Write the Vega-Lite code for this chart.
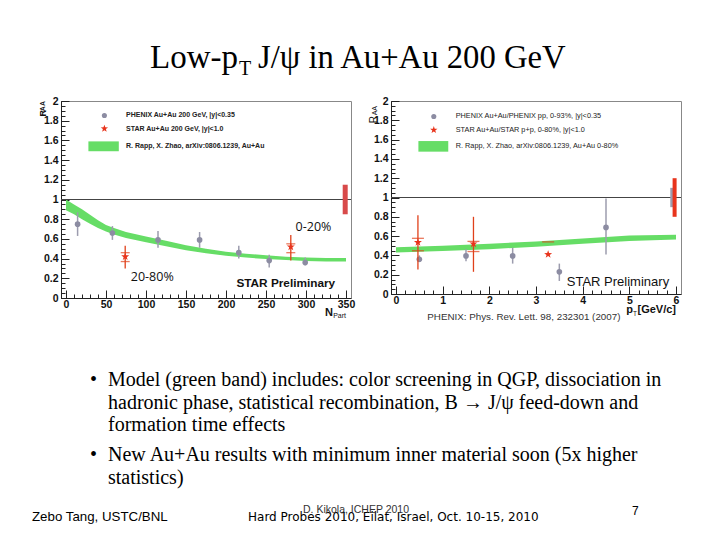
{
  "$schema": "https://vega.github.io/schema/vega-lite/v6.json",
  "background": "white",
  "padding": {"left": 32, "top": 0, "right": 0, "bottom": 0},
  "spacing": 0,
  "resolve": {"scale": {"x": "independent", "y": "independent"}},
  "config": {
    "view": {"stroke": "#888"},
    "axis": {
      "labelFont": "Liberation Sans", "labelFontWeight": "bold", "labelFontSize": 10.5,
      "labelColor": "#111", "domainColor": "#222", "tickColor": "#222", "grid": false,
      "labelOverlap": false, "labelFlush": false, "labelBound": false
    }
  },
  "datasets": {
    "one": [{}],
    "phenixN": [
      {"npart": 14.5, "raa": 0.75, "lo": 0.63, "hi": 0.87},
      {"npart": 58, "raa": 0.66, "lo": 0.59, "hi": 0.73},
      {"npart": 115, "raa": 0.59, "lo": 0.51, "hi": 0.68},
      {"npart": 167, "raa": 0.59, "lo": 0.51, "hi": 0.67},
      {"npart": 216, "raa": 0.46, "lo": 0.40, "hi": 0.53},
      {"npart": 254, "raa": 0.38, "lo": 0.31, "hi": 0.44},
      {"npart": 299, "raa": 0.36, "lo": 0.33, "hi": 0.41}
    ],
    "starN": [
      {"npart": 74, "raa": 0.42, "lo": 0.30, "hi": 0.53, "syslo": 0.37, "syshi": 0.46},
      {"npart": 281, "raa": 0.52, "lo": 0.38, "hi": 0.64, "syslo": 0.46, "syshi": 0.55}
    ],
    "bandN": [
      {"npart": 0, "lo": 0.89, "hi": 1.0},
      {"npart": 10, "lo": 0.85, "hi": 0.95},
      {"npart": 20, "lo": 0.80, "hi": 0.90},
      {"npart": 30, "lo": 0.755, "hi": 0.845},
      {"npart": 40, "lo": 0.71, "hi": 0.79},
      {"npart": 50, "lo": 0.675, "hi": 0.74},
      {"npart": 60, "lo": 0.645, "hi": 0.71},
      {"npart": 75, "lo": 0.61, "hi": 0.67},
      {"npart": 100, "lo": 0.565, "hi": 0.625},
      {"npart": 125, "lo": 0.525, "hi": 0.58},
      {"npart": 150, "lo": 0.485, "hi": 0.535},
      {"npart": 175, "lo": 0.455, "hi": 0.50},
      {"npart": 200, "lo": 0.43, "hi": 0.47},
      {"npart": 225, "lo": 0.41, "hi": 0.45},
      {"npart": 250, "lo": 0.395, "hi": 0.435},
      {"npart": 275, "lo": 0.385, "hi": 0.42},
      {"npart": 300, "lo": 0.375, "hi": 0.41},
      {"npart": 325, "lo": 0.37, "hi": 0.405},
      {"npart": 350, "lo": 0.37, "hi": 0.405}
    ],
    "globalN": [{"npart": 349, "lo": 0.85, "hi": 1.15}],
    "phenixPt": [
      {"pt": 0.5, "raa": 0.36, "lo": 0.33, "hi": 0.40},
      {"pt": 1.5, "raa": 0.395, "lo": 0.34, "hi": 0.465},
      {"pt": 2.5, "raa": 0.395, "lo": 0.315, "hi": 0.48},
      {"pt": 3.5, "raa": 0.23, "lo": 0.135, "hi": 0.315},
      {"pt": 4.5, "raa": 0.69, "lo": 0.41, "hi": 0.99}
    ],
    "starPt": [
      {"pt": 0.47, "raa": 0.535, "lo": 0.255, "hi": 0.815, "syslo": 0.448, "syshi": 0.577},
      {"pt": 1.66, "raa": 0.52, "lo": 0.23, "hi": 0.80, "syslo": 0.44, "syshi": 0.545},
      {"pt": 3.26, "raa": 0.41, "lo": null, "hi": null, "syslo": null, "syshi": 0.54}
    ],
    "bandPt": [
      {"pt": 0, "lo": 0.43, "hi": 0.485},
      {"pt": 1, "lo": 0.445, "hi": 0.50},
      {"pt": 2, "lo": 0.465, "hi": 0.52},
      {"pt": 3, "lo": 0.49, "hi": 0.545},
      {"pt": 4, "lo": 0.52, "hi": 0.575},
      {"pt": 5, "lo": 0.55, "hi": 0.605},
      {"pt": 6, "lo": 0.565, "hi": 0.615}
    ],
    "globalPt": [
      {"pt": 5.92, "lo": 0.9, "hi": 1.1, "exp": "PHENIX"},
      {"pt": 5.97, "lo": 0.8, "hi": 1.2, "exp": "STAR"}
    ]
  },
  "vconcat": [
    {
      "width": 620, "height": 95, "view": {"stroke": null},
      "layer": [
        {
          "data": {"values": [{"t": "Low-p"}]},
          "mark": {"type": "text", "font": "Liberation Serif", "fontSize": 33, "align": "right", "baseline": "alphabetic", "color": "#000"},
          "encoding": {
            "text": {"field": "t"},
            "x": {"datum": 177, "type": "quantitative", "scale": {"domain": [0, 620], "nice": false, "zero": false}, "axis": null},
            "y": {"datum": 68, "type": "quantitative", "scale": {"domain": [0, 95], "nice": false, "zero": false, "reverse": true}, "axis": null}
          }
        },
        {
          "data": {"values": [{"t": "T"}]},
          "mark": {"type": "text", "font": "Liberation Serif", "fontSize": 20, "align": "left", "baseline": "alphabetic", "color": "#000"},
          "encoding": {"text": {"field": "t"}, "x": {"datum": 178, "type": "quantitative"}, "y": {"datum": 75, "type": "quantitative"}}
        },
        {
          "data": {"values": [{"t": "J/ψ in Au+Au 200 GeV"}]},
          "mark": {"type": "text", "font": "Liberation Serif", "fontSize": 32.7, "align": "left", "baseline": "alphabetic", "color": "#000"},
          "encoding": {"text": {"field": "t"}, "x": {"datum": 197, "type": "quantitative"}, "y": {"datum": 68, "type": "quantitative"}}
        }
      ]
    },
    {
      "hconcat": [
        {
          "width": 290, "height": 197,
          "resolve": {"axis": {"x": "independent", "y": "independent"}},
          "layer": [
            {
              "data": {"name": "bandN"},
              "mark": {"type": "area", "color": "#66dd66", "opacity": 1},
              "encoding": {
                "x": {"field": "npart", "type": "quantitative", "title": null,
                  "scale": {"domain": [0, 350], "nice": false, "zero": false},
                  "axis": {"title": null, "orient": "bottom", "values": [0,50,100,150,200,250,300,350], "format": "d", "tickSize": -8, "labelPadding": 9}},
                "y": {"field": "lo", "type": "quantitative", "title": null,
                  "scale": {"domain": [0, 2], "nice": false, "zero": false},
                  "axis": {"title": null, "orient": "left", "values": [0,0.2,0.4,0.6,0.8,1,1.2,1.4,1.6,1.8,2], "format": "~g", "tickSize": -8, "labelPadding": 11}},
                "y2": {"field": "hi"}
              }
            },
            {
              "data": {"name": "one"},
              "mark": {"type": "point", "opacity": 0},
              "encoding": {
                "x": {"datum": 0, "type": "quantitative", "axis": {"title": null, "orient": "bottom", "labels": false, "domain": false, "tickSize": -4,
                  "values": [0,10,20,30,40,50,60,70,80,90,100,110,120,130,140,150,160,170,180,190,200,210,220,230,240,250,260,270,280,290,300,310,320,330,340,350]}},
                "y": {"datum": 0, "type": "quantitative", "axis": {"title": null, "orient": "left", "labels": false, "domain": false, "tickSize": -4,
                  "values": [0,0.05,0.1,0.15,0.2,0.25,0.3,0.35,0.4,0.45,0.5,0.55,0.6,0.65,0.7,0.75,0.8,0.85,0.9,0.95,1,1.05,1.1,1.15,1.2,1.25,1.3,1.35,1.4,1.45,1.5,1.55,1.6,1.65,1.7,1.75,1.8,1.85,1.9,1.95,2]}}
              }
            },
            {
              "data": {"name": "one"},
              "mark": {"type": "rule", "color": "#444", "strokeWidth": 1},
              "encoding": {"y": {"datum": 1, "type": "quantitative", "axis": null}}
            },
            {
              "data": {"name": "phenixN"},
              "mark": {"type": "rule", "color": "#9c9cae", "strokeWidth": 1.5},
              "encoding": {
                "x": {"field": "npart", "type": "quantitative", "axis": null},
                "y": {"field": "lo", "type": "quantitative", "axis": null},
                "y2": {"field": "hi"}
              }
            },
            {
              "data": {"name": "phenixN"},
              "mark": {"type": "point", "shape": "circle", "filled": true, "size": 32, "color": "#8c8ca2", "opacity": 1},
              "encoding": {
                "x": {"field": "npart", "type": "quantitative", "axis": null},
                "y": {"field": "raa", "type": "quantitative", "axis": null}
              }
            },
            {
              "data": {"name": "starN"},
              "mark": {"type": "rule", "color": "#e0401a", "strokeWidth": 1.3},
              "encoding": {
                "x": {"field": "npart", "type": "quantitative", "axis": null},
                "y": {"field": "lo", "type": "quantitative", "axis": null},
                "y2": {"field": "hi"}
              }
            },
            {
              "data": {"name": "starN"},
              "mark": {"type": "tick", "orient": "horizontal", "size": 9, "thickness": 1.3, "color": "#e0401a"},
              "encoding": {
                "x": {"field": "npart", "type": "quantitative", "axis": null},
                "y": {"field": "syslo", "type": "quantitative", "axis": null}
              }
            },
            {
              "data": {"name": "starN"},
              "mark": {"type": "tick", "orient": "horizontal", "size": 9, "thickness": 1.3, "color": "#e0401a"},
              "encoding": {
                "x": {"field": "npart", "type": "quantitative", "axis": null},
                "y": {"field": "syshi", "type": "quantitative", "axis": null}
              }
            },
            {
              "data": {"name": "starN"},
              "mark": {"type": "point", "shape": "M0,-1L0.235,-0.324L0.951,-0.309L0.38,0.124L0.588,0.809L0,0.4L-0.588,0.809L-0.38,0.124L-0.951,-0.309L-0.235,-0.324Z", "filled": true, "size": 70, "color": "#e8341c", "opacity": 1},
              "encoding": {
                "x": {"field": "npart", "type": "quantitative", "axis": null},
                "y": {"field": "raa", "type": "quantitative", "axis": null}
              }
            },
            {
              "data": {"name": "globalN"},
              "mark": {"type": "bar", "width": 5, "color": "#d84a4a"},
              "encoding": {
                "x": {"field": "npart", "type": "quantitative", "axis": null},
                "y": {"field": "lo", "type": "quantitative", "axis": null},
                "y2": {"field": "hi"}
              }
            },
            {
              "data": {"name": "one"},
              "mark": {"type": "point", "shape": "circle", "filled": true, "size": 26, "color": "#8c8ca2", "opacity": 1},
              "encoding": {"x": {"datum": 48, "type": "quantitative", "axis": null}, "y": {"datum": 1.853, "type": "quantitative", "axis": null}}
            },
            {
              "data": {"name": "one"},
              "mark": {"type": "point", "shape": "M0,-1L0.235,-0.324L0.951,-0.309L0.38,0.124L0.588,0.809L0,0.4L-0.588,0.809L-0.38,0.124L-0.951,-0.309L-0.235,-0.324Z", "filled": true, "size": 60, "color": "#e8341c", "opacity": 1},
              "encoding": {"x": {"datum": 48, "type": "quantitative", "axis": null}, "y": {"datum": 1.72, "type": "quantitative", "axis": null}}
            },
            {
              "data": {"name": "one"},
              "mark": {"type": "rect", "color": "#66dd66"},
              "encoding": {"x": {"datum": 28, "type": "quantitative", "axis": null}, "x2": {"datum": 66}, "y": {"datum": 1.49, "type": "quantitative", "axis": null}, "y2": {"datum": 1.59}}
            },
            {
              "data": {"values": [{"label": "PHENIX Au+Au 200 GeV, |y|<0.35"}]},
              "mark": {"type": "text", "font": "Liberation Sans", "fontWeight": "bold", "fontSize": 7, "align": "left", "baseline": "middle", "color": "#222"},
              "encoding": {"text": {"field": "label"}, "x": {"datum": 75, "type": "quantitative", "axis": null}, "y": {"datum": 1.853, "type": "quantitative", "axis": null}}
            },
            {
              "data": {"values": [{"label": "STAR  Au+Au 200 GeV, |y|<1.0"}]},
              "mark": {"type": "text", "font": "Liberation Sans", "fontWeight": "bold", "fontSize": 7, "align": "left", "baseline": "middle", "color": "#222"},
              "encoding": {"text": {"field": "label"}, "x": {"datum": 75, "type": "quantitative", "axis": null}, "y": {"datum": 1.72, "type": "quantitative", "axis": null}}
            },
            {
              "data": {"values": [{"label": "R. Rapp, X. Zhao, arXiv:0806.1239, Au+Au"}]},
              "mark": {"type": "text", "font": "Liberation Sans", "fontWeight": "bold", "fontSize": 7, "align": "left", "baseline": "middle", "color": "#222"},
              "encoding": {"text": {"field": "label"}, "x": {"datum": 75, "type": "quantitative", "axis": null}, "y": {"datum": 1.545, "type": "quantitative", "axis": null}}
            },
            {
              "data": {"values": [{"label": "0-20%"}]},
              "mark": {"type": "text", "font": "Open Sans", "fontSize": 12.5, "align": "left", "baseline": "middle", "color": "#111"},
              "encoding": {"text": {"field": "label"}, "x": {"datum": 287, "type": "quantitative", "axis": null}, "y": {"datum": 0.72, "type": "quantitative", "axis": null}}
            },
            {
              "data": {"values": [{"label": "20-80%"}]},
              "mark": {"type": "text", "font": "Open Sans", "fontSize": 12.5, "align": "left", "baseline": "middle", "color": "#111"},
              "encoding": {"text": {"field": "label"}, "x": {"datum": 81, "type": "quantitative", "axis": null}, "y": {"datum": 0.215, "type": "quantitative", "axis": null}}
            },
            {
              "data": {"values": [{"label": "STAR Preliminary"}]},
              "mark": {"type": "text", "font": "Liberation Sans", "fontWeight": "bold", "fontSize": 11.8, "align": "left", "baseline": "middle", "color": "#111"},
              "encoding": {"text": {"field": "label"}, "x": {"datum": 213, "type": "quantitative", "axis": null}, "y": {"datum": 0.15, "type": "quantitative", "axis": null}}
            },
            {
              "data": {"values": [{"label": "N"}]},
              "mark": {"type": "text", "font": "Liberation Sans", "fontWeight": "bold", "fontSize": 11, "align": "right", "baseline": "alphabetic", "dx": -13, "dy": 18, "color": "#111"},
              "encoding": {"text": {"field": "label"}, "x": {"datum": 350, "type": "quantitative", "axis": null}, "y": {"datum": 0, "type": "quantitative", "axis": null}}
            },
            {
              "data": {"values": [{"label": "Part"}]},
              "mark": {"type": "text", "font": "Liberation Sans", "fontSize": 7, "align": "right", "baseline": "alphabetic", "dx": 0, "dy": 19.5, "color": "#111"},
              "encoding": {"text": {"field": "label"}, "x": {"datum": 350, "type": "quantitative", "axis": null}, "y": {"datum": 0, "type": "quantitative", "axis": null}}
            },
            {
              "data": {"values": [{"label": "AA"}]},
              "mark": {"type": "text", "font": "Liberation Sans", "fontWeight": "bold", "fontSize": 7, "align": "right", "baseline": "alphabetic", "angle": 270, "dx": 0, "dy": -21, "color": "#111"},
              "encoding": {"text": {"field": "label"}, "x": {"datum": 0, "type": "quantitative", "axis": null}, "y": {"datum": 2, "type": "quantitative", "axis": null}}
            },
            {
              "data": {"values": [{"label": "R"}]},
              "mark": {"type": "text", "font": "Liberation Sans", "fontWeight": "bold", "fontSize": 9, "align": "right", "baseline": "alphabetic", "angle": 270, "dx": -9, "dy": -20.5, "color": "#111"},
              "encoding": {"text": {"field": "label"}, "x": {"datum": 0, "type": "quantitative", "axis": null}, "y": {"datum": 2, "type": "quantitative", "axis": null}}
            }
          ]
        },
        {
          "width": 290, "height": 193,
          "resolve": {"axis": {"x": "independent", "y": "independent"}},
          "layer": [
            {
              "data": {"name": "bandPt"},
              "mark": {"type": "area", "color": "#66dd66", "opacity": 1},
              "encoding": {
                "x": {"field": "pt", "type": "quantitative", "title": null,
                  "scale": {"domain": [0, 6], "nice": false, "zero": false},
                  "axis": {"title": null, "orient": "bottom", "values": [0,1,2,3,4,5,6], "format": "d", "tickSize": -8, "labelPadding": 9}},
                "y": {"field": "lo", "type": "quantitative", "title": null,
                  "scale": {"domain": [0, 2], "nice": false, "zero": false},
                  "axis": {"title": null, "orient": "left", "values": [0,0.2,0.4,0.6,0.8,1,1.2,1.4,1.6,1.8,2], "format": "~g", "tickSize": -8, "labelPadding": 11}},
                "y2": {"field": "hi"}
              }
            },
            {
              "data": {"name": "one"},
              "mark": {"type": "point", "opacity": 0},
              "encoding": {
                "x": {"datum": 0, "type": "quantitative", "axis": {"title": null, "orient": "bottom", "labels": false, "domain": false, "tickSize": -4,
                  "values": [0,0.2,0.4,0.6,0.8,1,1.2,1.4,1.6,1.8,2,2.2,2.4,2.6,2.8,3,3.2,3.4,3.6,3.8,4,4.2,4.4,4.6,4.8,5,5.2,5.4,5.6,5.8,6]}},
                "y": {"datum": 0, "type": "quantitative", "axis": {"title": null, "orient": "left", "labels": false, "domain": false, "tickSize": -4,
                  "values": [0,0.05,0.1,0.15,0.2,0.25,0.3,0.35,0.4,0.45,0.5,0.55,0.6,0.65,0.7,0.75,0.8,0.85,0.9,0.95,1,1.05,1.1,1.15,1.2,1.25,1.3,1.35,1.4,1.45,1.5,1.55,1.6,1.65,1.7,1.75,1.8,1.85,1.9,1.95,2]}}
              }
            },
            {
              "data": {"name": "one"},
              "mark": {"type": "rule", "color": "#444", "strokeWidth": 1},
              "encoding": {"y": {"datum": 1, "type": "quantitative", "axis": null}}
            },
            {
              "data": {"name": "phenixPt"},
              "mark": {"type": "rule", "color": "#9c9cae", "strokeWidth": 1.5},
              "encoding": {
                "x": {"field": "pt", "type": "quantitative", "axis": null},
                "y": {"field": "lo", "type": "quantitative", "axis": null},
                "y2": {"field": "hi"}
              }
            },
            {
              "data": {"name": "phenixPt"},
              "mark": {"type": "point", "shape": "circle", "filled": true, "size": 32, "color": "#8c8ca2", "opacity": 1},
              "encoding": {
                "x": {"field": "pt", "type": "quantitative", "axis": null},
                "y": {"field": "raa", "type": "quantitative", "axis": null}
              }
            },
            {
              "data": {"name": "starPt"},
              "mark": {"type": "rule", "color": "#e0401a", "strokeWidth": 1.3},
              "encoding": {
                "x": {"field": "pt", "type": "quantitative", "axis": null},
                "y": {"field": "lo", "type": "quantitative", "axis": null},
                "y2": {"field": "hi"}
              }
            },
            {
              "data": {"name": "starPt"},
              "mark": {"type": "tick", "orient": "horizontal", "size": 12, "thickness": 1.3, "color": "#e0401a"},
              "encoding": {
                "x": {"field": "pt", "type": "quantitative", "axis": null},
                "y": {"field": "syslo", "type": "quantitative", "axis": null}
              }
            },
            {
              "data": {"name": "starPt"},
              "mark": {"type": "tick", "orient": "horizontal", "size": 12, "thickness": 1.3, "color": "#e0401a"},
              "encoding": {
                "x": {"field": "pt", "type": "quantitative", "axis": null},
                "y": {"field": "syshi", "type": "quantitative", "axis": null}
              }
            },
            {
              "data": {"name": "starPt"},
              "mark": {"type": "point", "shape": "M0,-1L0.235,-0.324L0.951,-0.309L0.38,0.124L0.588,0.809L0,0.4L-0.588,0.809L-0.38,0.124L-0.951,-0.309L-0.235,-0.324Z", "filled": true, "size": 70, "color": "#e8341c", "opacity": 1},
              "encoding": {
                "x": {"field": "pt", "type": "quantitative", "axis": null},
                "y": {"field": "raa", "type": "quantitative", "axis": null}
              }
            },
            {
              "data": {"name": "globalPt"},
              "mark": {"type": "bar", "width": 4},
              "encoding": {
                "x": {"field": "pt", "type": "quantitative", "axis": null},
                "y": {"field": "lo", "type": "quantitative", "axis": null},
                "y2": {"field": "hi"},
                "color": {"field": "exp", "type": "nominal", "scale": {"domain": ["PHENIX", "STAR"], "range": ["#9c9cae", "#e8341c"]}, "legend": null}
              }
            },
            {
              "data": {"name": "one"},
              "mark": {"type": "point", "shape": "circle", "filled": true, "size": 26, "color": "#8c8ca2", "opacity": 1},
              "encoding": {"x": {"datum": 0.81, "type": "quantitative", "axis": null}, "y": {"datum": 1.84, "type": "quantitative", "axis": null}}
            },
            {
              "data": {"name": "one"},
              "mark": {"type": "point", "shape": "M0,-1L0.235,-0.324L0.951,-0.309L0.38,0.124L0.588,0.809L0,0.4L-0.588,0.809L-0.38,0.124L-0.951,-0.309L-0.235,-0.324Z", "filled": true, "size": 60, "color": "#e8341c", "opacity": 1},
              "encoding": {"x": {"datum": 0.81, "type": "quantitative", "axis": null}, "y": {"datum": 1.70, "type": "quantitative", "axis": null}}
            },
            {
              "data": {"name": "one"},
              "mark": {"type": "rect", "color": "#66dd66"},
              "encoding": {"x": {"datum": 0.48, "type": "quantitative", "axis": null}, "x2": {"datum": 1.12}, "y": {"datum": 1.475, "type": "quantitative", "axis": null}, "y2": {"datum": 1.585}}
            },
            {
              "data": {"values": [{"label": "PHENIX Au+Au/PHENIX pp, 0-93%, |y|<0.35"}]},
              "mark": {"type": "text", "font": "Liberation Sans", "fontSize": 7.3, "align": "left", "baseline": "middle", "color": "#222"},
              "encoding": {"text": {"field": "label"}, "x": {"datum": 1.28, "type": "quantitative", "axis": null}, "y": {"datum": 1.84, "type": "quantitative", "axis": null}}
            },
            {
              "data": {"values": [{"label": "STAR Au+Au/STAR p+p, 0-80%, |y|<1.0"}]},
              "mark": {"type": "text", "font": "Liberation Sans", "fontSize": 7.3, "align": "left", "baseline": "middle", "color": "#222"},
              "encoding": {"text": {"field": "label"}, "x": {"datum": 1.28, "type": "quantitative", "axis": null}, "y": {"datum": 1.70, "type": "quantitative", "axis": null}}
            },
            {
              "data": {"values": [{"label": "R. Rapp, X. Zhao, arXiv:0806.1239, Au+Au 0-80%"}]},
              "mark": {"type": "text", "font": "Liberation Sans", "fontSize": 7.3, "align": "left", "baseline": "middle", "color": "#222"},
              "encoding": {"text": {"field": "label"}, "x": {"datum": 1.28, "type": "quantitative", "axis": null}, "y": {"datum": 1.53, "type": "quantitative", "axis": null}}
            },
            {
              "data": {"values": [{"label": "STAR Preliminary"}]},
              "mark": {"type": "text", "font": "Liberation Sans", "fontSize": 13, "align": "left", "baseline": "middle", "color": "#111"},
              "encoding": {"text": {"field": "label"}, "x": {"datum": 3.66, "type": "quantitative", "axis": null}, "y": {"datum": 0.124, "type": "quantitative", "axis": null}}
            },
            {
              "data": {"values": [{"label": "PHENIX: Phys. Rev. Lett. 98, 232301 (2007)"}]},
              "mark": {"type": "text", "font": "Liberation Sans", "fontSize": 9.8, "align": "center", "baseline": "middle", "dy": 23, "color": "#333"},
              "encoding": {"text": {"field": "label"}, "x": {"datum": 2.74, "type": "quantitative", "axis": null}, "y": {"datum": 0, "type": "quantitative", "axis": null}}
            },
            {
              "data": {"values": [{"label": "[GeV/c]"}]},
              "mark": {"type": "text", "font": "Liberation Sans", "fontWeight": "bold", "fontSize": 11, "align": "right", "baseline": "alphabetic", "dy": 19, "color": "#111"},
              "encoding": {"text": {"field": "label"}, "x": {"datum": 6, "type": "quantitative", "axis": null}, "y": {"datum": 0, "type": "quantitative", "axis": null}}
            },
            {
              "data": {"values": [{"label": "T"}]},
              "mark": {"type": "text", "font": "Liberation Sans", "fontSize": 6.5, "align": "right", "baseline": "alphabetic", "dx": -39, "dy": 22, "color": "#111"},
              "encoding": {"text": {"field": "label"}, "x": {"datum": 6, "type": "quantitative", "axis": null}, "y": {"datum": 0, "type": "quantitative", "axis": null}}
            },
            {
              "data": {"values": [{"label": "p"}]},
              "mark": {"type": "text", "font": "Liberation Sans", "fontWeight": "bold", "fontSize": 11, "align": "right", "baseline": "alphabetic", "dx": -43, "dy": 19, "color": "#111"},
              "encoding": {"text": {"field": "label"}, "x": {"datum": 6, "type": "quantitative", "axis": null}, "y": {"datum": 0, "type": "quantitative", "axis": null}}
            },
            {
              "data": {"values": [{"label": "AA"}]},
              "mark": {"type": "text", "font": "Liberation Sans", "fontSize": 7, "align": "right", "baseline": "alphabetic", "angle": 270, "dx": -5, "dy": -19.5, "color": "#111"},
              "encoding": {"text": {"field": "label"}, "x": {"datum": 0, "type": "quantitative", "axis": null}, "y": {"datum": 2, "type": "quantitative", "axis": null}}
            },
            {
              "data": {"values": [{"label": "R"}]},
              "mark": {"type": "text", "font": "Liberation Sans", "fontSize": 10, "align": "right", "baseline": "alphabetic", "angle": 270, "dx": -15, "dy": -19.5, "color": "#111"},
              "encoding": {"text": {"field": "label"}, "x": {"datum": 0, "type": "quantitative", "axis": null}, "y": {"datum": 2, "type": "quantitative", "axis": null}}
            }
          ]
        }
      ],
      "spacing": 40,
      "bounds": "flush"
    },
    {
      "width": 620, "height": 219, "view": {"stroke": null},
      "layer": [
        {
          "data": {"values": [{"t": "Model (green band) includes: color screening in QGP, dissociation in\nhadronic phase, statistical recombination, B → J/ψ feed-down and\nformation time effects"}]},
          "mark": {"type": "text", "font": "Liberation Serif", "fontSize": 20, "lineHeight": 22.5, "lineBreak": "\n", "align": "left", "baseline": "alphabetic", "color": "#000"},
          "encoding": {
            "text": {"field": "t"},
            "x": {"datum": 47, "type": "quantitative", "scale": {"domain": [0, 620], "nice": false, "zero": false}, "axis": null},
            "y": {"datum": 63, "type": "quantitative", "scale": {"domain": [0, 219], "nice": false, "zero": false, "reverse": true}, "axis": null}
          }
        },
        {
          "data": {"values": [{"t": "New Au+Au results with minimum inner material soon (5x higher\nstatistics)"}]},
          "mark": {"type": "text", "font": "Liberation Serif", "fontSize": 20, "lineHeight": 22.5, "lineBreak": "\n", "align": "left", "baseline": "alphabetic", "color": "#000"},
          "encoding": {"text": {"field": "t"}, "x": {"datum": 47, "type": "quantitative"}, "y": {"datum": 138, "type": "quantitative"}}
        },
        {
          "data": {"values": [{"t": "•"}]},
          "mark": {"type": "text", "font": "Liberation Serif", "fontSize": 20, "align": "left", "baseline": "alphabetic", "color": "#000"},
          "encoding": {"text": {"field": "t"}, "x": {"datum": 29, "type": "quantitative"}, "y": {"datum": 63, "type": "quantitative"}}
        },
        {
          "data": {"values": [{"t": "•"}]},
          "mark": {"type": "text", "font": "Liberation Serif", "fontSize": 20, "align": "left", "baseline": "alphabetic", "color": "#000"},
          "encoding": {"text": {"field": "t"}, "x": {"datum": 29, "type": "quantitative"}, "y": {"datum": 138, "type": "quantitative"}}
        },
        {
          "data": {"values": [{"t": "Zebo Tang, USTC/BNL"}]},
          "mark": {"type": "text", "font": "Liberation Sans", "fontSize": 13.3, "align": "left", "baseline": "alphabetic", "color": "#000"},
          "encoding": {"text": {"field": "t"}, "x": {"datum": -29, "type": "quantitative"}, "y": {"datum": 198, "type": "quantitative"}}
        },
        {
          "data": {"values": [{"t": "Hard Probes 2010, Eilat, Israel, Oct. 10-15, 2010"}]},
          "mark": {"type": "text", "font": "DejaVu Sans", "fontSize": 12, "align": "left", "baseline": "alphabetic", "color": "#000"},
          "encoding": {"text": {"field": "t"}, "x": {"datum": 187, "type": "quantitative"}, "y": {"datum": 198, "type": "quantitative"}}
        },
        {
          "data": {"values": [{"t": "D. Kikola, ICHEP 2010"}]},
          "mark": {"type": "text", "font": "Liberation Sans", "fontSize": 10.5, "align": "left", "baseline": "alphabetic", "color": "#333"},
          "encoding": {"text": {"field": "t"}, "x": {"datum": 242, "type": "quantitative"}, "y": {"datum": 190, "type": "quantitative"}}
        },
        {
          "data": {"values": [{"t": "7"}]},
          "mark": {"type": "text", "font": "Liberation Sans", "fontSize": 12, "align": "left", "baseline": "alphabetic", "color": "#000"},
          "encoding": {"text": {"field": "t"}, "x": {"datum": 571, "type": "quantitative"}, "y": {"datum": 191.5, "type": "quantitative"}}
        }
      ]
    }
  ]
}
